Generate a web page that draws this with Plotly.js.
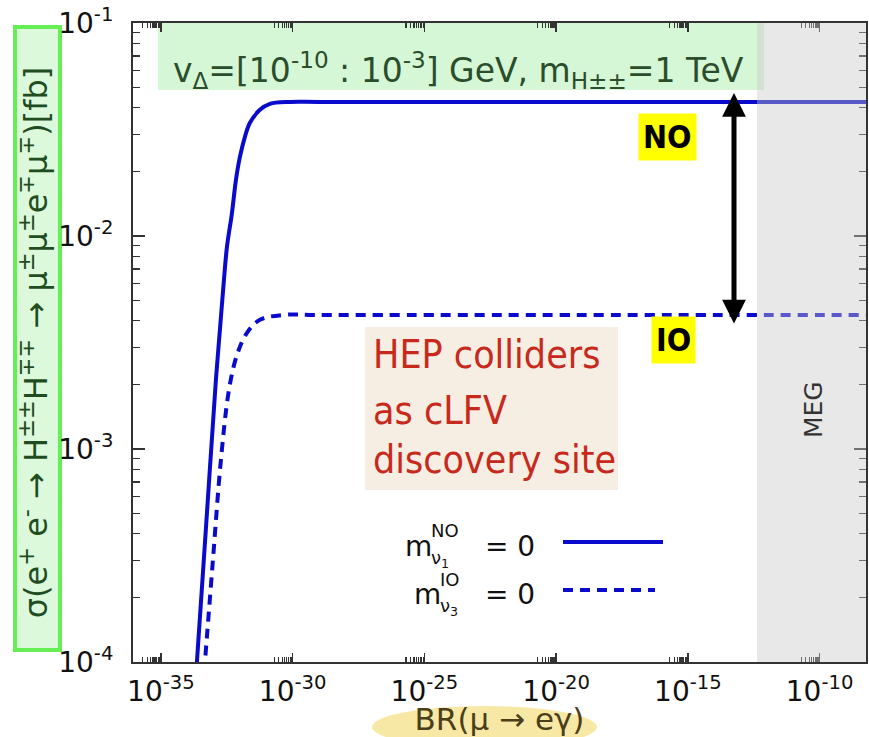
<!DOCTYPE html>
<html>
<head>
<meta charset="utf-8">
<script src="https://cdn.plot.ly/plotly-3.0.1.min.js"></script>
<style>html,body{margin:0;padding:0;background:#fff;}#chart{width:869px;height:737px;}</style>
</head>
<body>
<div id="chart"></div>
<script>
// ---- data ----
const brNO    = [1.79e-34, 2.32e-34, 5.06e-34, 1.22e-33, 1.73e-33, 2.46e-33, 3.20e-33, 4.95e-33, 7.01e-33, 9.95e-33, 1.54e-32, 2.39e-32, 5.71e-32, 1.37e-31, 7.87e-31, 1e-29, 1e-8];
const sigmaNO = [6.2e-5,   1.0e-4,   4.17e-4,  2.11e-3,  3.62e-3,  6.21e-3,  8.87e-3,  1.28e-2,  1.83e-2,  2.35e-2,  2.92e-2,  3.40e-2,  3.91e-2,  4.17e-2,  4.26e-2,  4.26e-2, 4.26e-2];
const brIO    = [3.44e-34, 4.68e-34, 9.40e-34, 1.89e-33, 3.81e-33, 7.66e-33, 1.84e-32, 5.71e-32, 4.27e-31, 1e-29, 1e-8];
const sigmaIO = [6.2e-5,   1.0e-4,   3.01e-4,  8.87e-4,  1.89e-3,  2.76e-3,  3.51e-3,  4.04e-3,  4.26e-3,  4.26e-3, 4.26e-3];
const xTickVals = [1e-35, 1e-30, 1e-25, 1e-20, 1e-15, 1e-10];
const xTickText = ['10<sup>-35</sup>','10<sup>-30</sup>','10<sup>-25</sup>','10<sup>-20</sup>','10<sup>-15</sup>','10<sup>-10</sup>'];
const yTickVals = [1e-4, 1e-3, 1e-2, 1e-1];
const yTickText = ['10<sup>-4</sup>','10<sup>-3</sup>','10<sup>-2</sup>','10<sup>-1</sup>'];
const megLimit = 4.2e-13;

// ---- layout helpers ----
const W = 869, H = 737, L = 133, R = 3, T = 23, B = 75;
const pw = W - L - R, ph = H - T - B;
const px = x => (x - L) / pw;
const py = y => (H - B - y) / ph;
const xr = [-36.06, -8.24];
const lx = x => xr[0] + (x - L) / pw * (xr[1] - xr[0]); // pixel -> log10 x
const ly = y => -1 - (y - T) / ph * 3;                   // pixel -> log10 y

const xMinor = [];
xTickVals.forEach(v => { for (let m = 2; m <= 9; m++) xMinor.push(m * v / 10); });
const yMinor = [];
yTickVals.slice(0, 3).forEach(v => { for (let m = 2; m <= 9; m++) yMinor.push(m * v); });

const blue = '#0a0acc';
const traces = [
  {x: brNO, y: sigmaNO, type: 'scatter', mode: 'lines', name: 'NO, m_ν1 = 0',
   line: {color: blue, width: 4, shape: 'spline', smoothing: 1}},
  {x: brIO, y: sigmaIO, type: 'scatter', mode: 'lines', name: 'IO, m_ν3 = 0',
   line: {color: blue, width: 4, dash: '10px,7px', shape: 'spline', smoothing: 1}}
];

const axisCommon = {
  showline: true, linecolor: '#333', linewidth: 2, mirror: 'ticks',
  ticks: 'inside', tickcolor: '#333', tickwidth: 1.5,
  showgrid: false, zeroline: false,
  tickfont: {family: 'DejaVu Sans', size: 28, color: '#111'}
};
const narrow = 'DejaVu Sans Condensed, Liberation Sans Narrow, sans-serif';

const layout = {
  width: W, height: H,
  margin: {l: L, r: R, t: T, b: B, pad: 0},
  paper_bgcolor: '#ffffff', plot_bgcolor: 'rgba(0,0,0,0)',
  showlegend: false,
  font: {family: 'DejaVu Sans', color: '#111'},
  xaxis: Object.assign({}, axisCommon, {
    type: 'log', range: xr, tickmode: 'array', tickvals: xTickVals, ticktext: xTickText, ticklen: 9,
    ticklabelstandoff: 3,
    minor: {tickmode: 'array', tickvals: xMinor, ticks: 'inside', ticklen: 5, tickwidth: 1.2, tickcolor: '#333', showgrid: false},
    title: {text: 'BR(μ → eγ)', font: {family: 'DejaVu Sans', size: 31, color: '#4a3f18'}, standoff: 8}
  }),
  yaxis: Object.assign({}, axisCommon, {
    type: 'log', range: [-4, -1], tickmode: 'array', tickvals: yTickVals, ticktext: yTickText, ticklen: 12,
    ticklabelstandoff: 12,
    minor: {tickmode: 'array', tickvals: yMinor, ticks: 'inside', ticklen: 7, tickwidth: 1.2, tickcolor: '#333', showgrid: false},
    title: {text: 'σ(e<sup>+</sup> e<sup>-</sup> → H<sup>±±</sup>H<sup>∓∓</sup> → μ<sup>±</sup>μ<sup>±</sup>e<sup>∓</sup>μ<sup>∓</sup>)[fb]',
            font: {family: 'DejaVu Sans', size: 32, color: '#1f4d1f'}, standoff: 1}
  }),
  shapes: [
    {type: 'rect', xref: 'paper', yref: 'paper', x0: px(15), x1: px(60), y0: py(650), y1: py(27),
     fillcolor: '#dcf9dc', line: {color: '#66ee55', width: 4}, layer: 'below'},
    {type: 'circle', xref: 'paper', yref: 'paper', x0: px(372), x1: px(597), y0: py(748), y1: py(706),
     fillcolor: '#f8e8a6', line: {width: 0}, layer: 'below'},
    {type: 'rect', xref: 'paper', yref: 'paper', x0: px(158), x1: px(764), y0: py(90), y1: 1,
     fillcolor: '#d6f7d6', line: {width: 0}, layer: 'below'},
    {type: 'rect', xref: 'paper', yref: 'paper', x0: px(365), x1: px(618), y0: py(490), y1: py(327),
     fillcolor: '#f6eee3', line: {width: 0}, layer: 'below'},
    {type: 'rect', xref: 'x', yref: 'paper', x0: megLimit, x1: 1e-7, y0: 0, y1: 1,
     fillcolor: 'rgba(200,200,200,0.42)', line: {width: 0}, layer: 'above'},
    {type: 'line', xref: 'paper', yref: 'paper', x0: px(563), x1: px(663), y0: py(542), y1: py(542),
     line: {color: blue, width: 4}},
    {type: 'line', xref: 'paper', yref: 'paper', x0: px(563), x1: px(655), y0: py(590), y1: py(590),
     line: {color: blue, width: 4, dash: '10px,7px'}}
  ],
  annotations: [
    {xref: 'paper', yref: 'paper', x: px(171), y: py(71), xanchor: 'left', yanchor: 'middle', showarrow: false,
     text: 'v<sub>Δ</sub>=[10<sup>-10</sup> : 10<sup>-3</sup>] GeV, m<sub>H±±</sub>=1 TeV',
     font: {family: 'DejaVu Sans', size: 33, color: '#2b4d2b'}},
    {xref: 'x', yref: 'paper', x: lx(813), y: py(410), xanchor: 'center', yanchor: 'middle', showarrow: false,
     textangle: -90, text: 'MEG', font: {family: 'DejaVu Sans', size: 25, color: '#333'}},
    {xref: 'paper', yref: 'paper', x: px(667), y: py(137), xanchor: 'center', yanchor: 'middle', showarrow: false,
     text: '<b>NO</b>', bgcolor: '#ffff00', borderpad: 4, font: {family: narrow, size: 32, color: '#000'}},
    {xref: 'paper', yref: 'paper', x: px(673), y: py(340), xanchor: 'center', yanchor: 'middle', showarrow: false,
     text: '<b>IO</b>', bgcolor: '#ffff00', borderpad: 4, font: {family: narrow, size: 32, color: '#000'}},
    {xref: 'x', yref: 'y', x: lx(734), y: ly(93), ax: 0, ay: 232, axref: 'pixel', ayref: 'pixel', text: '',
     showarrow: true, arrowside: 'end+start', arrowhead: 2, startarrowhead: 2, arrowsize: 0.95, startarrowsize: 0.95,
     arrowwidth: 5, arrowcolor: '#000', standoff: 0, startstandoff: 0},
    {xref: 'paper', yref: 'paper', x: px(371), y: py(355), xanchor: 'left', yanchor: 'middle', showarrow: false,
     text: 'HEP colliders', font: {family: narrow, size: 39, color: '#c72a1c'}},
    {xref: 'paper', yref: 'paper', x: px(371), y: py(410), xanchor: 'left', yanchor: 'middle', showarrow: false,
     text: 'as cLFV', font: {family: narrow, size: 39, color: '#c72a1c'}},
    {xref: 'paper', yref: 'paper', x: px(371), y: py(459), xanchor: 'left', yanchor: 'middle', showarrow: false,
     text: 'discovery site', font: {family: narrow, size: 39, color: '#c72a1c'}},
    // legend text (symbol drawn on the right, as in the reference)
    {xref: 'paper', yref: 'paper', x: px(403), y: py(546), xanchor: 'left', yanchor: 'middle', showarrow: false,
     text: 'm', font: {size: 28, color: '#111'}},
    {xref: 'paper', yref: 'paper', x: px(429), y: py(530), xanchor: 'left', yanchor: 'middle', showarrow: false,
     text: 'NO', font: {size: 18, color: '#111'}},
    {xref: 'paper', yref: 'paper', x: px(429), y: py(559), xanchor: 'left', yanchor: 'middle', showarrow: false,
     text: 'ν<sub>1</sub>', font: {size: 18, color: '#111'}},
    {xref: 'paper', yref: 'paper', x: px(483), y: py(546), xanchor: 'left', yanchor: 'middle', showarrow: false,
     text: '= 0', font: {size: 28, color: '#111'}},
    {xref: 'paper', yref: 'paper', x: px(412), y: py(594), xanchor: 'left', yanchor: 'middle', showarrow: false,
     text: 'm', font: {size: 28, color: '#111'}},
    {xref: 'paper', yref: 'paper', x: px(438), y: py(579), xanchor: 'left', yanchor: 'middle', showarrow: false,
     text: 'IO', font: {size: 18, color: '#111'}},
    {xref: 'paper', yref: 'paper', x: px(438), y: py(607), xanchor: 'left', yanchor: 'middle', showarrow: false,
     text: 'ν<sub>3</sub>', font: {size: 18, color: '#111'}},
    {xref: 'paper', yref: 'paper', x: px(483), y: py(594), xanchor: 'left', yanchor: 'middle', showarrow: false,
     text: '= 0', font: {size: 28, color: '#111'}}
  ]
};

Plotly.newPlot('chart', traces, layout, {displayModeBar: false, staticPlot: true});
</script>
</body>
</html>
